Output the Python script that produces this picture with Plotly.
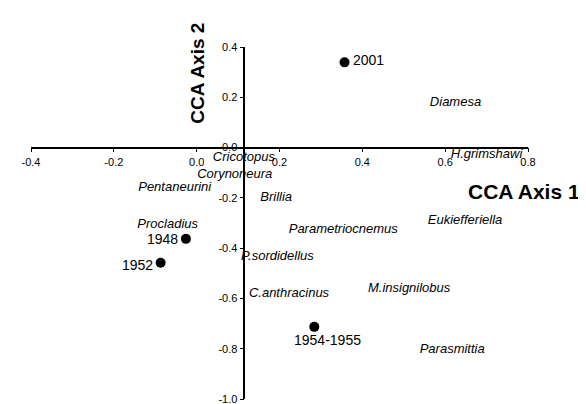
import plotly.graph_objects as go

# Sample scores (years)
sample_names = ["2001", "1948", "1952", "1954-1955"]
sample_x = [0.357, -0.026, -0.087, 0.284]
sample_y = [0.339, -0.363, -0.458, -0.713]

# Taxa scores
taxa_names = ["Diamesa", "H.grimshawi", "Cricotopus", "Corynoneura", "Pentaneurini",
              "Brillia", "Procladius", "Parametriocnemus", "Eukiefferiella",
              "P.sordidellus", "C.anthracinus", "M.insignilobus", "Parasmittia"]
taxa_x = [0.625, 0.700, 0.114, 0.092, -0.053, 0.192, -0.070, 0.354, 0.648,
          0.195, 0.223, 0.513, 0.617]
taxa_y = [0.178, -0.029, -0.040, -0.108, -0.158, -0.201, -0.308, -0.327, -0.292,
          -0.436, -0.580, -0.563, -0.805]

x_ticks = [-0.4, -0.2, 0.0, 0.2, 0.4, 0.6, 0.8]
y_ticks = [-1.0, -0.8, -0.6, -0.4, -0.2, 0.0, 0.2, 0.4]
x_range = [-0.4, 0.8]
y_range = [-1.0, 0.4]
yaxis_cross_x = 0.115   # where the vertical axis is drawn
xaxis_cross_y = 0.0     # where the horizontal axis is drawn

FONT = "Arial, 'Liberation Sans', sans-serif"

fig = go.Figure()

fig.add_trace(go.Scatter(
    x=taxa_x, y=taxa_y, mode="text", text=taxa_names,
    textposition="middle center",
    textfont=dict(family=FONT, size=13, color="black", style="italic"),
    hoverinfo="text", showlegend=False))

fig.add_trace(go.Scatter(
    x=sample_x, y=sample_y, mode="markers",
    marker=dict(size=10, color="black"),
    showlegend=False))

# sample labels
label_cfg = {
    "2001": dict(xanchor="left", xshift=6, yshift=2),
    "1948": dict(xanchor="right", xshift=-6, yshift=0),
    "1952": dict(xanchor="right", xshift=-6, yshift=-2),
    "1954-1955": dict(xanchor="center", xshift=13, yshift=-13),
}
for name, xv, yv in zip(sample_names, sample_x, sample_y):
    c = label_cfg[name]
    fig.add_annotation(x=xv, y=yv, text=name, showarrow=False,
                       xanchor=c["xanchor"], yanchor="middle",
                       xshift=c["xshift"], yshift=c["yshift"],
                       font=dict(family=FONT, size=14, color="black"))

# axis titles
fig.add_annotation(x=0.79, y=-0.175, xref="x", yref="y", text="<b>CCA Axis 1</b>",
                   showarrow=False, xanchor="center", yanchor="middle",
                   font=dict(family=FONT, size=21, color="black"))
fig.add_annotation(x=0.002, y=0.296, xref="x", yref="y", text="<b>CCA Axis 2</b>",
                   showarrow=False, xanchor="center", yanchor="middle", textangle=-90,
                   font=dict(family=FONT, size=19, color="black"))

ypos = (xaxis_cross_y - y_range[0]) / (y_range[1] - y_range[0])
xpos = (yaxis_cross_x - x_range[0]) / (x_range[1] - x_range[0])

fig.update_layout(
    width=586, height=404,
    margin=dict(l=23, r=66, t=39, b=7),
    paper_bgcolor="white", plot_bgcolor="white",
    font=dict(family=FONT, color="black"),
    xaxis=dict(range=x_range, tickvals=x_ticks,
               ticktext=[f"{v:.1f}" for v in x_ticks],
               showgrid=False, zeroline=False, showline=True, linecolor="black",
               linewidth=1.5, ticks="outside", ticklen=4, tickwidth=1, tickcolor="black",
               anchor="free", position=ypos, side="bottom",
               tickfont=dict(family=FONT, size=11, color="black")),
    yaxis=dict(range=y_range, tickvals=y_ticks,
               ticktext=[f"{v:.1f}" for v in y_ticks],
               showgrid=False, zeroline=False, showline=True, linecolor="black",
               linewidth=1.5, ticks="outside", ticklen=4, tickwidth=1, tickcolor="black",
               anchor="free", position=xpos, side="left",
               tickfont=dict(family=FONT, size=11, color="black")),
)

fig.write_html("out.html")
